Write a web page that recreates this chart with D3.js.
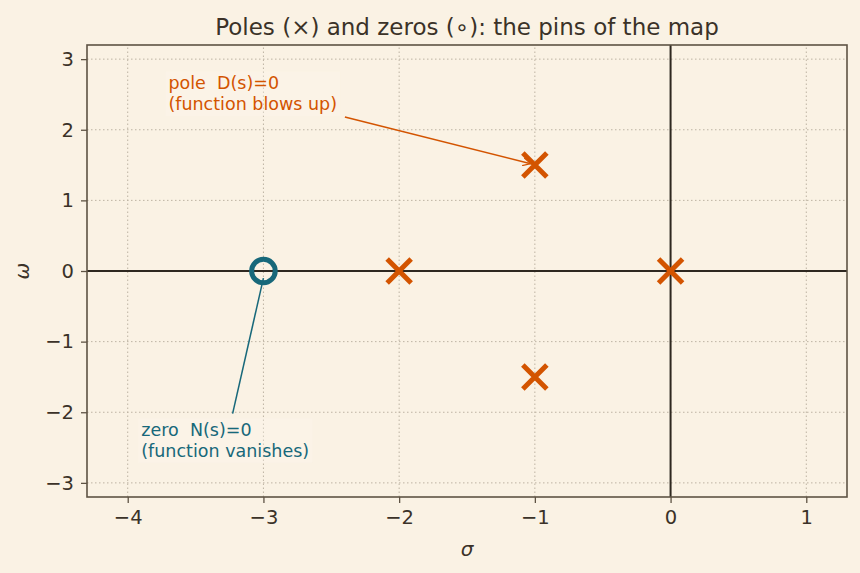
<!DOCTYPE html>
<html>
<head>
<meta charset="utf-8">
<script src="https://cdn.jsdelivr.net/npm/d3@7"></script>
<style>
  body { margin: 0; background: #faf2e4; }
  svg { display: block; font-family: "DejaVu Sans", sans-serif; }
</style>
</head>
<body>
<svg id="chart"></svg>
<script>
let width = 860;
let height = 573;
let margin = {top: 45, right: 13, bottom: 76, left: 87};

// data
let poles = [[-1, 1.5], [-2, 0], [0, 0], [-1, -1.5]];
let zeros = [[-3, 0]];
let xTicks = [-4, -3, -2, -1, 0, 1];
let yTicks = [-3, -2, -1, 0, 1, 2, 3];
let xDomain = [-4.3, 1.3];
let yDomain = [-3.2, 3.2];
let titleText = "Poles (\u00d7) and zeros (\u2218): the pins of the map";
let poleNote = ["pole  D(s)=0", "(function blows up)"];
let zeroNote = ["zero  N(s)=0", "(function vanishes)"];

let bg = '#faf2e4';
let ink = '#3b3228';
let spine = '#5e5344';
let poleCol = '#d35400';
let zeroCol = '#17687a';

let svg = d3.select('#chart')
  .attr('width', width)
  .attr('height', height);

svg.append('rect').attr('width', width).attr('height', height).attr('fill', bg);

let xax = d3.scaleLinear().domain(xDomain).range([margin.left, width - margin.right]);
let yax = d3.scaleLinear().domain(yDomain).range([height - margin.bottom, margin.top]);

// grid
let grid = svg.append('g')
  .attr('stroke', '#bdb3a3')
  .attr('stroke-width', 1)
  .attr('stroke-dasharray', '1.5,2.5');
grid.selectAll('.gx').data(xTicks).join('line')
  .attr('x1', d => xax(d)).attr('x2', d => xax(d))
  .attr('y1', yax(yDomain[0])).attr('y2', yax(yDomain[1]));
grid.selectAll('.gy').data(yTicks).join('line')
  .attr('y1', d => yax(d)).attr('y2', d => yax(d))
  .attr('x1', xax(xDomain[0])).attr('x2', xax(xDomain[1]));

// zero lines
svg.append('line')
  .attr('x1', xax(xDomain[0])).attr('x2', xax(xDomain[1]))
  .attr('y1', yax(0)).attr('y2', yax(0))
  .attr('stroke', '#2e2820').attr('stroke-width', 2);
svg.append('line')
  .attr('y1', yax(yDomain[0])).attr('y2', yax(yDomain[1]))
  .attr('x1', xax(0)).attr('x2', xax(0))
  .attr('stroke', '#2e2820').attr('stroke-width', 2);

// axes
let fmt = d => d < 0 ? '\u2212' + Math.abs(d) : String(d);
let gx = svg.append('g')
  .attr('transform', `translate(0,${height - margin.bottom})`)
  .call(d3.axisBottom(xax).tickValues(xTicks).tickFormat(fmt).tickSizeOuter(0).tickSize(6).tickPadding(7));
let gy = svg.append('g')
  .attr('transform', `translate(${margin.left},0)`)
  .call(d3.axisLeft(yax).tickValues(yTicks).tickFormat(fmt).tickSizeOuter(0).tickSize(6).tickPadding(7));
[gx, gy].forEach(g => {
  g.select('.domain').remove();
  g.selectAll('line').attr('stroke', spine).attr('stroke-width', 1.3);
  g.selectAll('text').attr('fill', ink).style('font-size', '19.5px').style('font-family', '"DejaVu Sans", sans-serif');
});

// frame
svg.append('rect')
  .attr('x', xax(xDomain[0])).attr('y', yax(yDomain[1]))
  .attr('width', xax(xDomain[1]) - xax(xDomain[0]))
  .attr('height', yax(yDomain[0]) - yax(yDomain[1]))
  .attr('fill', 'none').attr('stroke', spine).attr('stroke-width', 1.6);

// annotations
svg.append('defs').append('marker')
  .attr('id', 'arr').attr('viewBox', '0 0 10 10')
  .attr('refX', 10).attr('refY', 5)
  .attr('markerWidth', 8).attr('markerHeight', 8)
  .attr('markerUnits', 'userSpaceOnUse')
  .attr('orient', 'auto')
  .append('path').attr('d', 'M0,0 L10,5 L0,10').attr('fill', 'none')
  .attr('stroke', poleCol).attr('stroke-width', 1.5);

function note(lines, x, y, col) {
  let box = svg.append('rect');
  let t = svg.append('text')
    .attr('x', xax(x)).attr('y', yax(y))
    .attr('fill', col).style('font-size', '17.5px')
    .style('white-space', 'pre');
  lines.forEach((s, i) => {
    t.append('tspan').attr('x', xax(x)).attr('dy', i == 0 ? 0 : 20.5).text(s);
  });
  let b = t.node().getBBox();
  box.attr('x', b.x - 3).attr('y', b.y - 2).attr('width', b.width + 6).attr('height', b.height + 4)
    .attr('fill', '#fcf7ee').attr('opacity', 0.35);
}
note(poleNote, -3.7, 2.57, poleCol);
note(zeroNote, -3.9, -2.34, zeroCol);

svg.append('line')
  .attr('x1', xax(-2.4)).attr('y1', yax(2.18))
  .attr('x2', xax(-1.03)).attr('y2', yax(1.52))
  .attr('stroke', poleCol).attr('stroke-width', 1.5)
  .attr('marker-end', 'url(#arr)');
svg.append('line')
  .attr('x1', xax(-3.227)).attr('y1', yax(-2.02))
  .attr('x2', xax(-3.0)).attr('y2', yax(-0.1))
  .attr('stroke', zeroCol).attr('stroke-width', 1.5);

// zeros
svg.append('g').selectAll('circle').data(zeros).join('circle')
  .attr('cx', d => xax(d[0])).attr('cy', d => yax(d[1]))
  .attr('r', 11.8)
  .attr('fill', 'none').attr('stroke', zeroCol).attr('stroke-width', 5);

// poles
let s = 12;
svg.append('g').selectAll('path').data(poles).join('path')
  .attr('d', d => {
    let cx = xax(d[0]), cy = yax(d[1]);
    return `M${cx - s},${cy - s}L${cx + s},${cy + s}M${cx - s},${cy + s}L${cx + s},${cy - s}`;
  })
  .attr('stroke', poleCol).attr('stroke-width', 5).attr('fill', 'none');

// title and labels
svg.append('text')
  .attr('x', (xax(xDomain[0]) + xax(xDomain[1])) / 2).attr('y', 35)
  .attr('text-anchor', 'middle').attr('fill', ink)
  .style('font-size', '23px')
  .text(titleText);
svg.append('text')
  .attr('x', (xax(xDomain[0]) + xax(xDomain[1])) / 2).attr('y', 556)
  .attr('text-anchor', 'middle').attr('fill', ink)
  .style('font-size', '20px').style('font-style', 'italic')
  .text('\u03c3');
svg.append('text')
  .attr('transform', `translate(29,${yax(0)}) rotate(-90)`)
  .attr('text-anchor', 'middle').attr('fill', ink)
  .style('font-size', '20px').style('font-style', 'italic')
  .text('\u03c9');
</script>
</body>
</html>
